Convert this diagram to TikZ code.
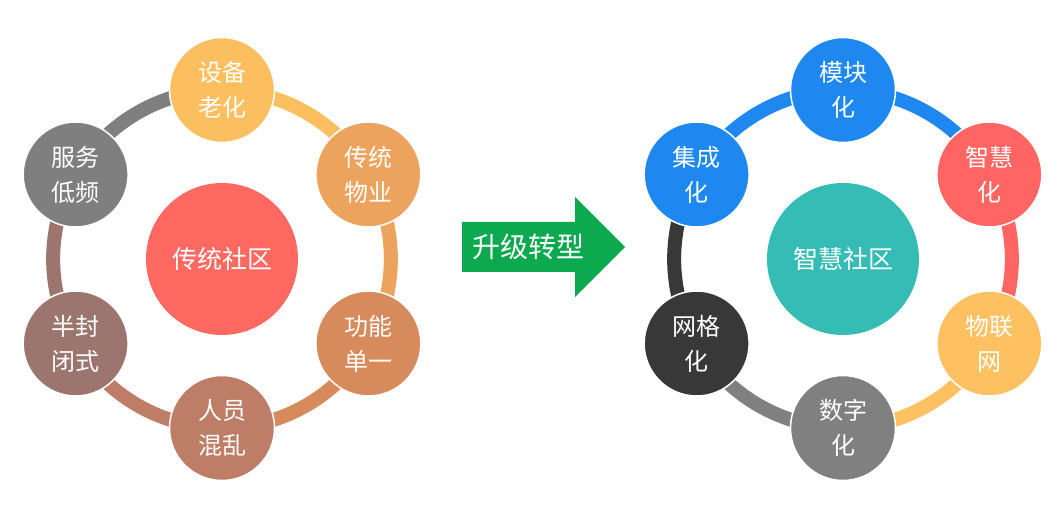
\documentclass[tikz,border=0pt]{standalone}
\usepackage{fontspec}
\setmainfont{Noto Sans CJK SC}
\usetikzlibrary{backgrounds}
\definecolor{agedyellow}{HTML}{FBBF60}
\definecolor{propertyorange}{HTML}{ECA35D}
\definecolor{singlebrown}{HTML}{D78A5B}
\definecolor{messybrown}{HTML}{BE7D67}
\definecolor{closedmauve}{HTML}{9C756F}
\definecolor{lowgrey}{HTML}{7F7F7F}
\definecolor{oldred}{HTML}{FF6961}
\definecolor{smartblue}{HTML}{1E88F0}
\definecolor{smartred}{HTML}{FF6663}
\definecolor{iotyellow}{HTML}{FDC162}
\definecolor{digitgrey}{HTML}{808080}
\definecolor{griddark}{HTML}{383838}
\definecolor{smartteal}{HTML}{35BCB5}
\definecolor{upgreen}{HTML}{0CA94E}
\begin{document}
\begin{tikzpicture}[x=1pt,y=1pt,
    bubble/.style={circle,draw=white,line width=1.5pt,minimum size=105pt,inner sep=0pt,
      text=white,align=center,font=\fontsize{24}{35}\selectfont},
    hub/.style={circle,minimum size=152pt,inner sep=0pt,text=white,font=\fontsize{25}{30}\selectfont},
    ring/.style={line width=14pt,bend left=30,looseness=0.91}]
    \useasboundingbox (0,0) rectangle (1060,513);
    %% Old community
    \begin{scope}[shift={(222,254)}]
        \node[hub,fill=oldred] (oldhub) at (0,0) {传统社区};
        \node[bubble,fill=agedyellow] (aged) at (90:169) {设备\\老化};
        \node[bubble,fill=propertyorange] (property) at (30:169) {传统\\物业};
        \node[bubble,fill=singlebrown] (single) at (-30:169) {功能\\单一};
        \node[bubble,fill=messybrown] (messy) at (-90:169) {人员\\混乱};
        \node[bubble,fill=closedmauve] (closed) at (-150:169) {半封\\闭式};
        \node[bubble,fill=lowgrey] (lowfreq) at (150:169) {服务\\低频};
    \end{scope}
    \begin{scope}[on background layer]
        \draw[ring,agedyellow] (aged.center) to (property.center);
        \draw[ring,propertyorange] (property.center) to (single.center);
        \draw[ring,singlebrown] (single.center) to (messy.center);
        \draw[ring,messybrown] (messy.center) to (closed.center);
        \draw[ring,closedmauve] (closed.center) to (lowfreq.center);
        \draw[ring,lowgrey] (lowfreq.center) to (aged.center);
    \end{scope}
    %% Arrow
    \fill[upgreen] (462,291) -- (575,291) -- (575,316) -- (625,266) -- (575,216) -- (575,241) -- (462,241) -- cycle;
    \node[text=white,font=\fontsize{28}{30}\selectfont] (upgrade) at (528,266) {升级转型};
    %% Smart community
    \begin{scope}[shift={(843,254)}]
        \node[hub,fill=smartteal] (smarthub) at (0,0) {智慧社区};
        \node[bubble,fill=smartblue] (modular) at (90:169) {模块\\化};
        \node[bubble,fill=smartred] (smart) at (30:169) {智慧\\化};
        \node[bubble,fill=iotyellow] (iot) at (-30:169) {物联\\网};
        \node[bubble,fill=digitgrey] (digital) at (-90:169) {数字\\化};
        \node[bubble,fill=griddark] (grid) at (-150:169) {网格\\化};
        \node[bubble,fill=smartblue] (integrated) at (150:169) {集成\\化};
    \end{scope}
    \begin{scope}[on background layer]
        \draw[ring,smartblue] (modular.center) to (smart.center);
        \draw[ring,smartred] (smart.center) to (iot.center);
        \draw[ring,iotyellow] (iot.center) to (digital.center);
        \draw[ring,digitgrey] (digital.center) to (grid.center);
        \draw[ring,griddark] (grid.center) to (integrated.center);
        \draw[ring,smartblue] (integrated.center) to (modular.center);
    \end{scope}
\end{tikzpicture}
\end{document}
